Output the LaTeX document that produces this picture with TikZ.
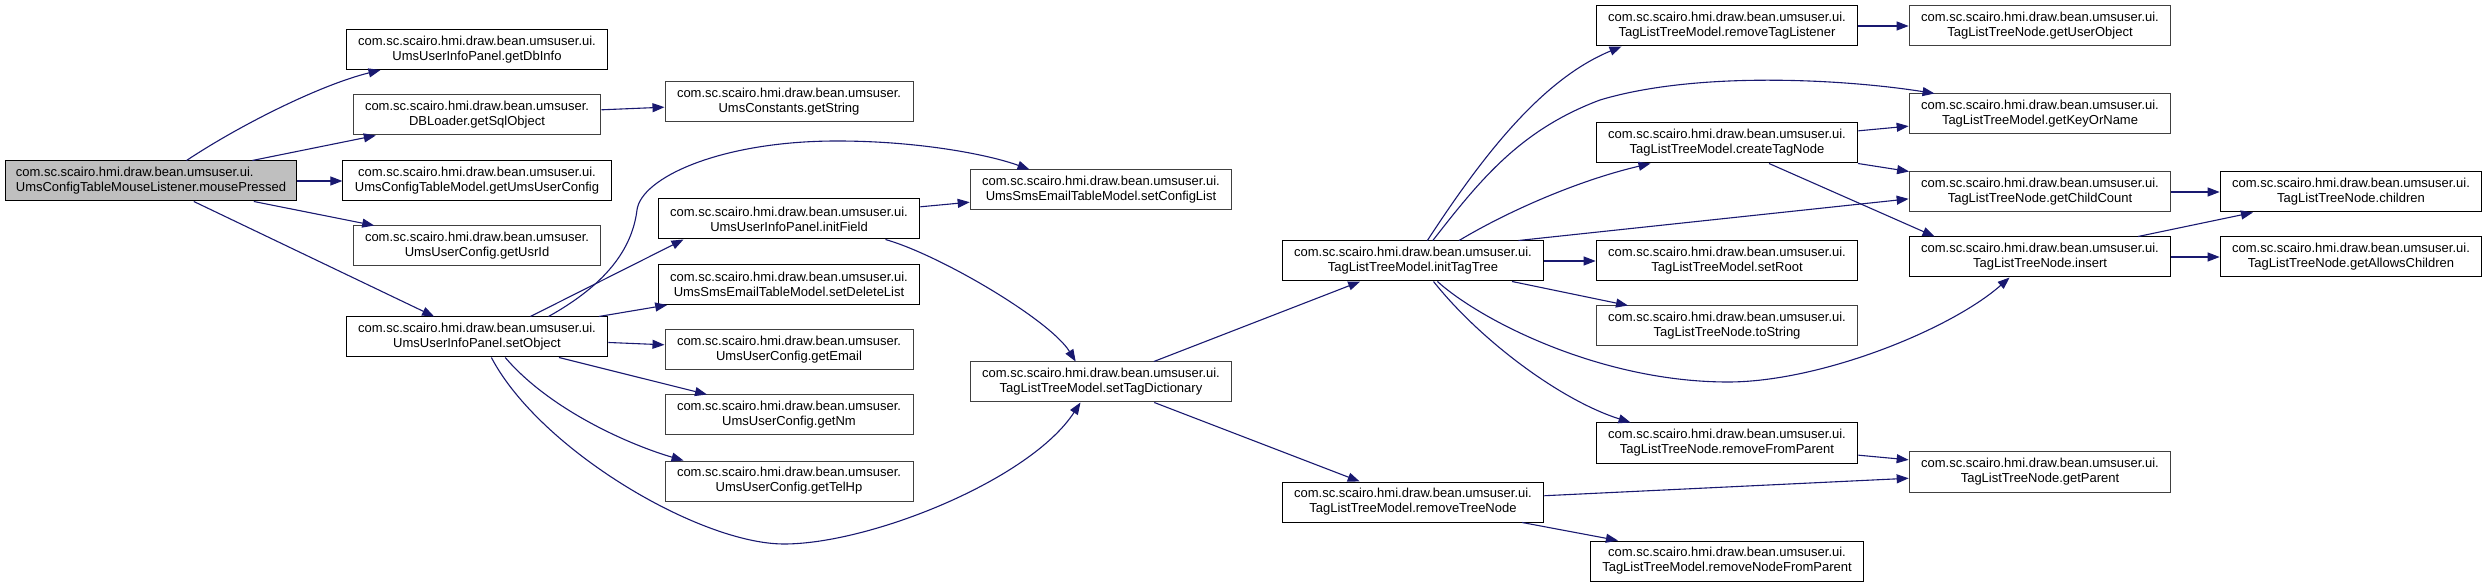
\documentclass[tikz,border=0pt]{standalone}
\usepackage{fontspec}
\newfontfamily\cgfont{Liberation Sans}
\usepackage{xcolor}
\definecolor{cgedge}{HTML}{191970}
\definecolor{cgline}{HTML}{404040}
\definecolor{cgrootbg}{HTML}{BFBFBF}
\usepackage{tikz}
\usetikzlibrary{arrows.meta,positioning}
\tikzset{
  cgbox/.style={draw=black,line width=0.5pt,fill=white,align=center,font=\cgfont\fontsize{6.5}{7.5}\selectfont,inner xsep=6pt,inner ysep=0pt,minimum height=20pt},
  cgext/.style={cgbox,draw=cgline},
  cgroot/.style={cgbox,fill=cgrootbg,align=left,inner xsep=5pt},
  cgflow/.style={-{Triangle[length=6pt,width=4.5pt]},line width=0.55pt,draw=cgedge},
}

\begin{document}
\begin{tikzpicture}[x=0.5pt,y=-0.5pt]
\useasboundingbox (0,0) rectangle (2489,587);
\node[cgroot] (mp) at (151,181) {com.sc.scairo.hmi.draw.bean.umsuser.ui.\\UmsConfigTableMouseListener.mousePressed};
\node[cgbox] (dbinfo) at (477,49.5) {com.sc.scairo.hmi.draw.bean.umsuser.ui.\\UmsUserInfoPanel.getDbInfo};
\node[cgext] (sqlobj) at (477,115) {com.sc.scairo.hmi.draw.bean.umsuser.\\DBLoader.getSqlObject};
\node[cgbox] (umscfg) at (477,181) {com.sc.scairo.hmi.draw.bean.umsuser.ui.\\UmsConfigTableModel.getUmsUserConfig};
\node[cgext] (usrid) at (477,246) {com.sc.scairo.hmi.draw.bean.umsuser.\\UmsUserConfig.getUsrId};
\node[cgbox] (setobj) at (477,337) {com.sc.scairo.hmi.draw.bean.umsuser.ui.\\UmsUserInfoPanel.setObject};
\node[cgext] (getstr) at (789,102) {com.sc.scairo.hmi.draw.bean.umsuser.\\UmsConstants.getString};
\node[cgbox] (initfld) at (789,219) {com.sc.scairo.hmi.draw.bean.umsuser.ui.\\UmsUserInfoPanel.initField};
\node[cgbox] (dellist) at (789,284.5) {com.sc.scairo.hmi.draw.bean.umsuser.ui.\\UmsSmsEmailTableModel.setDeleteList};
\node[cgext] (email) at (789,350) {com.sc.scairo.hmi.draw.bean.umsuser.\\UmsUserConfig.getEmail};
\node[cgext] (nm) at (789,415) {com.sc.scairo.hmi.draw.bean.umsuser.\\UmsUserConfig.getNm};
\node[cgext] (telhp) at (789,481) {com.sc.scairo.hmi.draw.bean.umsuser.\\UmsUserConfig.getTelHp};
\node[cgext] (cfglist) at (1101,190) {com.sc.scairo.hmi.draw.bean.umsuser.ui.\\UmsSmsEmailTableModel.setConfigList};
\node[cgext] (tagdict) at (1101,382) {com.sc.scairo.hmi.draw.bean.umsuser.ui.\\TagListTreeModel.setTagDictionary};
\node[cgbox] (inittree) at (1413,261) {com.sc.scairo.hmi.draw.bean.umsuser.ui.\\TagListTreeModel.initTagTree};
\node[cgbox] (rmtree) at (1413,502) {com.sc.scairo.hmi.draw.bean.umsuser.ui.\\TagListTreeModel.removeTreeNode};
\node[cgbox] (rmlisten) at (1727,26) {com.sc.scairo.hmi.draw.bean.umsuser.ui.\\TagListTreeModel.removeTagListener};
\node[cgbox] (crnode) at (1727,143) {com.sc.scairo.hmi.draw.bean.umsuser.ui.\\TagListTreeModel.createTagNode};
\node[cgbox] (setroot) at (1727,261) {com.sc.scairo.hmi.draw.bean.umsuser.ui.\\TagListTreeModel.setRoot};
\node[cgext] (tostr) at (1727,326) {com.sc.scairo.hmi.draw.bean.umsuser.ui.\\TagListTreeNode.toString};
\node[cgbox] (rmfromp) at (1727,443) {com.sc.scairo.hmi.draw.bean.umsuser.ui.\\TagListTreeNode.removeFromParent};
\node[cgbox] (rmnodefp) at (1727,561) {com.sc.scairo.hmi.draw.bean.umsuser.ui.\\TagListTreeModel.removeNodeFromParent};
\node[cgext] (userobj) at (2040,26) {com.sc.scairo.hmi.draw.bean.umsuser.ui.\\TagListTreeNode.getUserObject};
\node[cgext] (keyname) at (2040,114) {com.sc.scairo.hmi.draw.bean.umsuser.ui.\\TagListTreeModel.getKeyOrName};
\node[cgext] (childcnt) at (2040,192) {com.sc.scairo.hmi.draw.bean.umsuser.ui.\\TagListTreeNode.getChildCount};
\node[cgbox] (insert) at (2040,257) {com.sc.scairo.hmi.draw.bean.umsuser.ui.\\TagListTreeNode.insert};
\node[cgext] (parent) at (2040,472) {com.sc.scairo.hmi.draw.bean.umsuser.ui.\\TagListTreeNode.getParent};
\node[cgbox] (children) at (2351,192) {com.sc.scairo.hmi.draw.bean.umsuser.ui.\\TagListTreeNode.children};
\node[cgbox] (allowch) at (2351,257) {com.sc.scairo.hmi.draw.bean.umsuser.ui.\\TagListTreeNode.getAllowsChildren};
\draw[cgflow] (mp.30) .. controls (240,125) and (320,85) .. (dbinfo.192);
\draw[cgflow] (mp) -- (sqlobj);\draw[cgflow] (mp) -- (umscfg);\draw[cgflow] (mp) -- (usrid);\draw[cgflow] (mp) -- (setobj);
\draw[cgflow] (sqlobj) -- (getstr);
\draw[cgflow] (setobj.16) .. controls (605,285) and (632,250) .. (637,210) .. controls (641,178) and (720,141) .. (837,141) .. controls (920,141) and (990,155) .. (cfglist.164);
\draw[cgflow] (setobj.21) -- (initfld.191);
\draw[cgflow] (setobj) -- (dellist);\draw[cgflow] (setobj) -- (email);\draw[cgflow] (setobj) -- (nm);
\draw[cgflow] (setobj.324) .. controls (550,410) and (630,445) .. (telhp.169);
\draw[cgflow] (setobj.305) .. controls (540,450) and (700,544) .. (784,544) .. controls (870,544) and (1030,480) .. (tagdict.225);
\draw[cgflow] (initfld) -- (cfglist);
\draw[cgflow] (initfld.348) .. controls (940,255) and (1050,320) .. (tagdict.141);
\draw[cgflow] (tagdict) -- (inittree);\draw[cgflow] (tagdict) -- (rmtree);
\draw[cgflow] (inittree.55) .. controls (1480,160) and (1540,80) .. (rmlisten.191);
\draw[cgflow] (inittree.46) .. controls (1480,180) and (1520,130) .. (1600,100) .. controls (1700,70) and (1850,80) .. (keyname.169);
\draw[cgflow] (inittree.24) .. controls (1510,210) and (1580,180) .. (crnode.195);
\draw[cgflow] (inittree.11) -- (childcnt.183);
\draw[cgflow] (inittree) -- (setroot);\draw[cgflow] (inittree) -- (tostr);
\draw[cgflow] (inittree.320) .. controls (1480,320) and (1600,382) .. (1728,382) .. controls (1820,382) and (1950,330) .. (insert.214);
\draw[cgflow] (inittree.315) .. controls (1480,340) and (1560,400) .. (rmfromp.168);
\draw[cgflow] (crnode) -- (keyname);\draw[cgflow] (crnode) -- (childcnt);\draw[cgflow] (crnode.334) -- (insert.169);
\draw[cgflow] (rmlisten) -- (userobj);
\draw[cgflow] (childcnt) -- (children);\draw[cgflow] (insert) -- (children);\draw[cgflow] (insert) -- (allowch);
\draw[cgflow] (rmfromp) -- (parent);\draw[cgflow] (rmtree) -- (parent);\draw[cgflow] (rmtree) -- (rmnodefp);
\end{tikzpicture}
\end{document}
